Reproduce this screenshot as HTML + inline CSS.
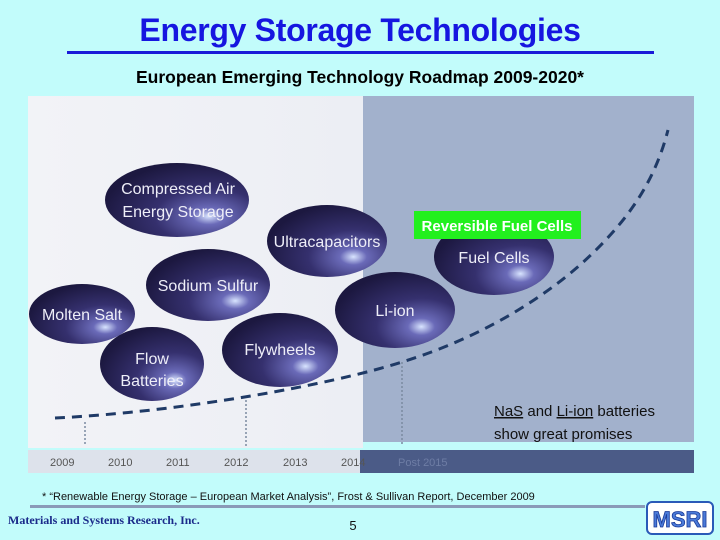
<!DOCTYPE html>
<html><head><style>
body{margin:0;width:720px;height:540px;background:#c2fcfb;position:relative;overflow:hidden;font-family:"Liberation Sans",sans-serif}
.t{position:absolute;left:0;width:720px;text-align:center;top:12px;font-size:32px;font-weight:bold;color:#1616e0;letter-spacing:-0.3px}
</style></head><body>
<div class="t">Energy Storage Technologies</div>
<div style="position:absolute;left:67px;top:51px;width:587px;height:3px;background:#1a1ad8"></div>
<div style="position:absolute;left:0;width:720px;top:67px;text-align:center;font-size:17.5px;font-weight:bold;color:#000">European Emerging Technology Roadmap 2009-2020*</div>
<svg width="720" height="540" style="position:absolute;left:0;top:0">
<defs>
<radialGradient id="g" cx="0.72" cy="0.72" r="0.75">
<stop offset="0" stop-color="#d8e4ff"/><stop offset="0.15" stop-color="#6a6ab8"/><stop offset="0.5" stop-color="#35306e"/><stop offset="1" stop-color="#1c1840"/>
</radialGradient>
<linearGradient id="lp" x1="0" x2="1"><stop offset="0" stop-color="#f2f3f7"/><stop offset="1" stop-color="#eceef4"/></linearGradient>
</defs>
<rect x="28" y="96" width="335" height="352" fill="url(#lp)"/>
<rect x="363" y="96" width="331" height="346" fill="#a2b1cc"/>
<rect x="28" y="450" width="335" height="23" fill="#dde2eb"/>
<rect x="360" y="450" width="334" height="23" fill="#4b5b87"/>
<g font-size="11" fill="#555">
<text x="50" y="466">2009</text><text x="108" y="466">2010</text><text x="166" y="466">2011</text><text x="224" y="466">2012</text><text x="283" y="466">2013</text><text x="341" y="466">2014</text><text x="398" y="466" fill="#6e7da5">Post 2015</text>
</g>
<g stroke="#7a8aa0" stroke-width="1.5" stroke-dasharray="2,2">
<line x1="85" y1="422" x2="85" y2="446"/><line x1="246" y1="400" x2="246" y2="446"/><line x1="402" y1="362" x2="402" y2="446"/>
</g>
<path d="M55 418 C180 412 330 385 402 362 C480 338 540 300 580 265 C630 220 655 180 668 130" fill="none" stroke="#1f3a66" stroke-width="3" stroke-dasharray="10,7"/>
<g fill="url(#g)">
<ellipse cx="177" cy="200" rx="72" ry="37"/>
<ellipse cx="327" cy="241" rx="60" ry="36"/>
<ellipse cx="208" cy="285" rx="62" ry="36"/>
<ellipse cx="82" cy="314" rx="53" ry="30"/>
<ellipse cx="152" cy="364" rx="52" ry="37"/>
<ellipse cx="280" cy="350" rx="58" ry="37"/>
<ellipse cx="395" cy="310" rx="60" ry="38"/>
<ellipse cx="494" cy="257" rx="60" ry="38"/>
</g>
<g fill="#eeeef8" font-size="16" text-anchor="middle">
<text x="178" y="194">Compressed Air</text><text x="178" y="217">Energy Storage</text>
<text x="327" y="247">Ultracapacitors</text>
<text x="208" y="291">Sodium Sulfur</text>
<text x="82" y="320">Molten Salt</text>
<text x="152" y="364">Flow</text><text x="152" y="386">Batteries</text>
<text x="280" y="355">Flywheels</text>
<text x="395" y="316">Li-ion</text>
<text x="494" y="263">Fuel Cells</text>
</g>
<rect x="414" y="211" width="167" height="28" fill="#22f01e"/>
<text x="497" y="231" text-anchor="middle" font-size="15" font-weight="bold" fill="#fff">Reversible Fuel Cells</text>
<g font-size="15" fill="#111">
<text x="494" y="416"><tspan text-decoration="underline">NaS</tspan> and <tspan text-decoration="underline">Li-ion</tspan> batteries</text>
<text x="494" y="439">show great promises</text>
</g>
<text x="42" y="500" font-size="11" fill="#111">* “Renewable Energy Storage – European Market Analysis”, Frost &amp; Sullivan Report, December 2009</text>
<rect x="30" y="505" width="615" height="3" fill="#8a9ab8"/>
<text x="8" y="524" font-family="Liberation Serif" font-weight="bold" font-size="12" fill="#1a2a8a">Materials and Systems Research, Inc.</text>
<text x="353" y="530" font-size="13" text-anchor="middle" fill="#111">5</text>
<rect x="647" y="502" width="66" height="32" rx="5" fill="#fff" stroke="#2a5ab8" stroke-width="2"/>
<text x="680" y="527" text-anchor="middle" font-size="22" font-weight="bold" fill="#4a7ad8" stroke="#1a3a98" stroke-width="0.8">MSRI</text>
</svg>
</body></html>
